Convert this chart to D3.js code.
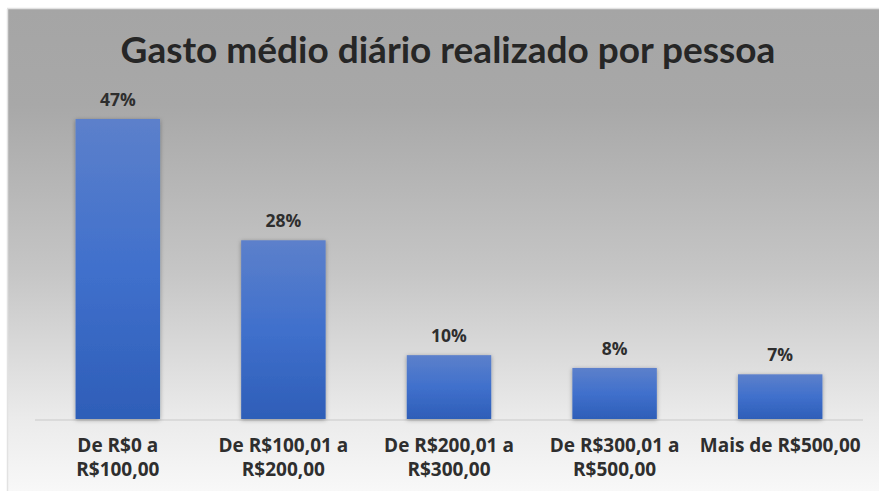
<!DOCTYPE html>
<html>
<head>
<meta charset="utf-8">
<script src="https://cdn.jsdelivr.net/npm/d3@7"></script>
<style>
  html, body { margin: 0; padding: 0; background: #ffffff; }
  svg { display: block; }
</style>
</head>
<body>
<svg id="chart" width="879" height="491"></svg>
<script>
// Faixas de gasto e percentual de pessoas em cada uma
const categories = [
  ["De R$0 a", "R$100,00"],
  ["De R$100,01 a", "R$200,00"],
  ["De R$200,01 a", "R$300,00"],
  ["De R$300,01 a", "R$500,00"],
  ["Mais de R$500,00"]
];
const values = [47, 28, 10, 8, 7];
const valueLabels = ["47%", "28%", "10%", "8%", "7%"];
const title = "Gasto médio diário realizado por pessoa";

const svg = d3.select("#chart");
const W = 879, H = 491;
const defs = svg.append("defs");

// fundo: cinza no topo clareando até quase branco na base
const bg = defs.append("linearGradient").attr("id", "bg").attr("x1", 0).attr("y1", 0).attr("x2", 0).attr("y2", 1);
bg.append("stop").attr("offset", "0%").attr("stop-color", "#a5a5a5");
bg.append("stop").attr("offset", "20%").attr("stop-color", "#a8a8a8");
bg.append("stop").attr("offset", "55%").attr("stop-color", "#c6c6c6");
bg.append("stop").attr("offset", "85%").attr("stop-color", "#ebebeb");
bg.append("stop").attr("offset", "100%").attr("stop-color", "#f8f8f8");

// barras com degradê azul
const barGrad = defs.append("linearGradient").attr("id", "barGrad").attr("x1", 0).attr("y1", 0).attr("x2", 0).attr("y2", 1);
barGrad.append("stop").attr("offset", "0%").attr("stop-color", "#5c80cb");
barGrad.append("stop").attr("offset", "50%").attr("stop-color", "#4070cc");
barGrad.append("stop").attr("offset", "100%").attr("stop-color", "#2e5eb8");

const shadow = defs.append("filter").attr("id", "shadow").attr("x", "-20%").attr("y", "-20%").attr("width", "140%").attr("height", "140%");
shadow.append("feDropShadow").attr("dx", 0).attr("dy", 1).attr("stdDeviation", 2.2)
  .attr("flood-color", "#000").attr("flood-opacity", 0.35);

// área do gráfico
svg.append("rect").attr("x", 8).attr("y", 9).attr("width", W - 8).attr("height", H - 9)
  .attr("fill", "url(#bg)");
svg.append("line").attr("x1", 7.5).attr("x2", 7.5).attr("y1", 9).attr("y2", H)
  .attr("stroke", "#e2e2e2").attr("stroke-width", 1.5);
svg.append("line").attr("x1", 7).attr("x2", W).attr("y1", 8.5).attr("y2", 8.5)
  .attr("stroke", "#e2e2e2").attr("stroke-width", 1.5);

const margin = { left: 35, right: 16, top: 0, bottom: 0 };
const baseY = 419;

const x = d3.scaleBand()
  .domain(d3.range(values.length))
  .range([margin.left, W - margin.right])
  .paddingInner(0.49)
  .paddingOuter(0.245);

const y = d3.scaleLinear().domain([0, 47]).range([baseY, 119]);

// linha do eixo
svg.append("line")
  .attr("x1", x.range()[0]).attr("x2", x.range()[1])
  .attr("y1", baseY + 1).attr("y2", baseY + 1)
  .attr("stroke", "#d4d4d4").attr("stroke-width", 1.5);

svg.append("g").selectAll("rect")
  .data(values)
  .join("rect")
  .attr("x", (d, i) => x(i))
  .attr("y", d => y(d))
  .attr("width", x.bandwidth())
  .attr("height", d => baseY - y(d))
  .attr("fill", "url(#barGrad)")
  .attr("filter", "url(#shadow)");

// rótulos de valor
svg.append("g").selectAll("text")
  .data(values)
  .join("text")
  .attr("x", (d, i) => x(i) + x.bandwidth() / 2)
  .attr("y", d => y(d) - 13)
  .attr("text-anchor", "middle")
  .attr("font-family", "'Open Sans', sans-serif")
  .attr("font-weight", 700)
  .attr("font-size", 17.5)
  .attr("fill", "#2e2e2e")
  .text((d, i) => valueLabels[i]);

// rótulos das categorias
const catG = svg.append("g");
categories.forEach((lines, i) => {
  const t = catG.append("text")
    .attr("x", x(i) + x.bandwidth() / 2)
    .attr("y", 452)
    .attr("text-anchor", "middle")
    .attr("font-family", "'Open Sans', sans-serif")
    .attr("font-weight", 700)
    .attr("font-size", 19)
    .attr("fill", "#2e2e2e");
  lines.forEach((ln, k) => {
    t.append("tspan").attr("x", x(i) + x.bandwidth() / 2).attr("dy", k === 0 ? 0 : 24).text(ln);
  });
});

// título
svg.append("text")
  .attr("x", 448)
  .attr("y", 63)
  .attr("text-anchor", "middle")
  .attr("font-family", "Lato, sans-serif")
  .attr("font-weight", 700)
  .attr("font-size", 37)
  .attr("fill", "#262626")
  .text(title);
</script>
</body>
</html>
